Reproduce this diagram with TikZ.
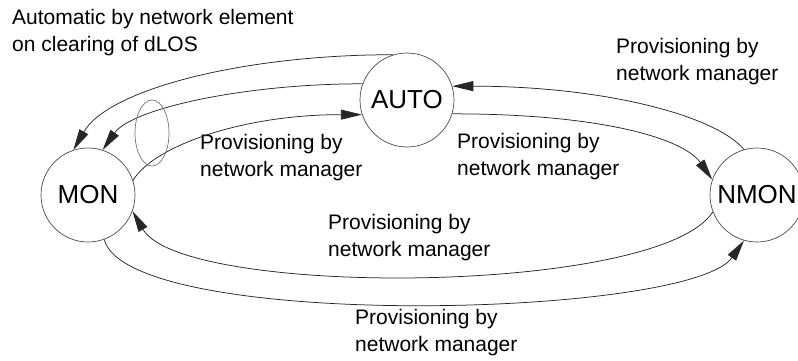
\documentclass[tikz,border=0pt]{standalone}
\usepackage{fontspec}
\setmainfont{Liberation Sans}
\usetikzlibrary{arrows.meta,shapes.geometric}
\begin{document}
\begin{tikzpicture}[x=1bp,y=1bp,
  state/.style={circle,draw=black!70,line width=0.7bp,minimum size=94bp,inner sep=0pt,font=\fontsize{26bp}{30bp}\selectfont},
  lbl/.style={anchor=north west,inner sep=0pt,align=left,font=\fontsize{21bp}{27bp}\selectfont},
  conn/.style={draw=black!85,line width=0.75bp,-{Triangle[length=21bp,width=10bp]}}]
\useasboundingbox (0,0) rectangle (798,360);
\node[state] (mon) at (88,165) {MON};
\node[state] (auto) at (407,260) {AUTO};
\node[state] (nmon) at (757,165) {NMON};
% labels
\node[lbl] (l1) at (12,351) {Automatic by network element\\on clearing of dLOS};
\node[lbl] (l2) at (200,226) {Provisioning by\\network manager};
\node[lbl] (l3) at (457,227) {Provisioning by\\network manager};
\node[lbl] (l4) at (616,322) {Provisioning by\\network manager};
\node[lbl] (l5) at (328,146) {Provisioning by\\network manager};
\node[lbl] (l6) at (355,51) {Provisioning by\\network manager};
% connectors
\draw[conn] (auto.107) .. controls +(180:150) and +(60:70) .. (mon.108);
\draw[conn] (auto.160) .. controls +(180:120) and +(55:50) .. (mon.72);
\draw[conn] (mon.18) .. controls +(59:40) and +(180:120) .. (auto.198);
\draw[conn] (auto.343) .. controls +(0:150) and +(125:50) .. (nmon.161);
\draw[conn] (nmon.106) .. controls +(130:45) and +(0:150) .. (auto.17);
\draw[conn] (nmon.201) .. controls +(237:100) and +(300:100) .. (mon.340);
\draw[conn] (mon.290) .. controls +(-75:95) and +(235:95) .. (nmon.254);
% grouping ellipse
\node[draw=black!55,line width=0.7bp,ellipse,minimum width=34bp,minimum height=66bp,inner sep=0pt] (grp) at (152,227) {};
\end{tikzpicture}
\end{document}
